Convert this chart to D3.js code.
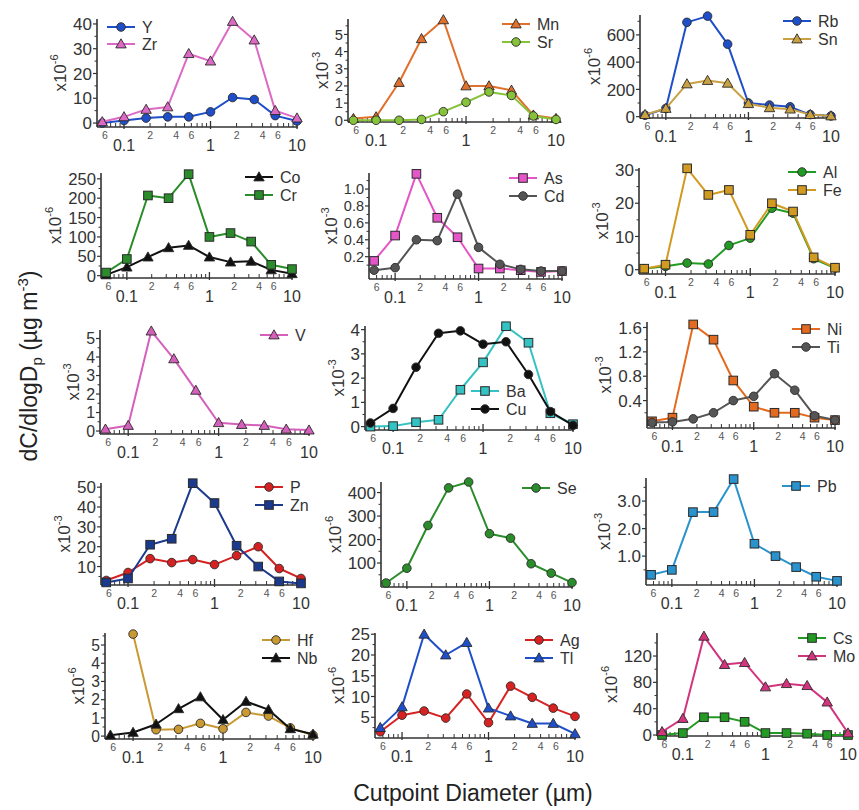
<!DOCTYPE html>
<html><head><meta charset="utf-8">
<script src="https://cdn.jsdelivr.net/npm/d3@7/dist/d3.min.js"></script>
<style>body{margin:0;background:#fff}svg{display:block}text{font-family:"Liberation Sans",Arial,sans-serif}</style>
</head><body><svg id="c" width="859" height="810"></svg>
<script>
// ---------------- DATA ----------------
const cutpoints = [0.056, 0.1, 0.18, 0.32, 0.56, 1.0, 1.8, 3.2, 5.6, 10];
const xMajorTicks = [0.1, 1, 10];
const xMinorTickLabels = [[0.06, "6"], [0.2, "2"], [0.4, "4"], [0.6, "6"], [2, "2"], [4, "4"], [6, "6"]];

const Y  = [0.0, 1.0, 2.0, 2.5, 2.5, 4.5, 10.3, 9.5, 3.0, 0.8];
const Zr = [0.5, 2.5, 5.5, 6.5, 28, 25, 41, 33.5, 5.0, 2.0];
const Mn = [0.1, 0.2, 2.2, 4.75, 5.85, 2.0, 2.0, 1.75, 0.3, 0.1];
const Sr = [0.0, 0.0, 0.0, 0.05, 0.5, 1.05, 1.65, 1.45, 0.25, 0.05];
const Rb = [10, 60, 692, 738, 532, 100, 85, 72, 15, 5];
const Sn = [15, 60, 240, 265, 245, 95, 65, 55, 15, 5];
const Co = [2, 22, 48, 72, 78, 48, 35, 37, 15, 5];
const Cr = [8, 43, 207, 200, 262, 100, 110, 88, 28, 17];
const As = [0.15, 0.45, 1.18, 0.66, 0.43, 0.06, 0.06, 0.04, 0.02, 0.03];
const Cd = [0.04, 0.07, 0.40, 0.39, 0.94, 0.31, 0.11, 0.05, 0.03, 0.03];
const Al = [0.3, 1.0, 2.0, 1.7, 7.3, 9.5, 18.5, 17.0, 3.3, 0.5];
const Fe = [0.3, 1.5, 30.5, 22.5, 24.0, 10.5, 20.0, 17.5, 3.7, 0.6];
const V  = [0.1, 0.3, 5.4, 3.9, 2.2, 0.45, 0.35, 0.3, 0.1, 0.05];
const Ba = [0.0, 0.02, 0.18, 0.28, 1.52, 2.65, 4.14, 3.46, 0.55, 0.1];
const Cu = [0.15, 0.75, 2.45, 3.85, 3.95, 3.4, 3.5, 2.15, 0.62, 0.05];
const Ni = [0.06, 0.12, 1.65, 1.4, 0.73, 0.3, 0.2, 0.2, 0.12, 0.08];
const Ti = [0.04, 0.05, 0.1, 0.2, 0.4, 0.47, 0.84, 0.57, 0.15, 0.08];
const P  = [3, 7, 14, 12, 13.5, 11, 15.5, 20, 9, 4];
const Zn = [2, 4, 21, 24, 52, 42, 20.5, 10, 2.5, 1.5];
const Se = [15, 78, 260, 420, 445, 225, 206, 97, 57, 17];
const Pb = [0.32, 0.5, 2.6, 2.6, 3.8, 1.45, 1.0, 0.6, 0.25, 0.1];
const Hf = [null, 5.6, 0.35, 0.37, 0.7, 0.4, 1.3, 1.1, 0.45, 0.05];
const Nb = [0.05, 0.2, 0.65, 1.5, 2.15, 0.9, 1.9, 1.45, 0.4, 0.1];
const Ag = [1.5, 5.5, 6.5, 4.8, 10.6, 3.7, 12.5, 9.8, 7.2, 5.2];
const Tl = [2.5, 7.5, 25, 20, 23, 7.2, 5.3, 3.5, 3.5, 1.0];
const Cs = [0, 3, 27, 27, 20, 3, 3, 2, 0, 0];
const Mo = [5, 25, 150, 107, 110, 73, 78, 75, 50, 3];

const panelSeries = [
  [["Y", Y], ["Zr", Zr]],
  [["Mn", Mn], ["Sr", Sr]],
  [["Rb", Rb], ["Sn", Sn]],
  [["Co", Co], ["Cr", Cr]],
  [["As", As], ["Cd", Cd]],
  [["Al", Al], ["Fe", Fe]],
  [["V", V]],
  [["Ba", Ba], ["Cu", Cu]],
  [["Ni", Ni], ["Ti", Ti]],
  [["P", P], ["Zn", Zn]],
  [["Se", Se]],
  [["Pb", Pb]],
  [["Hf", Hf], ["Nb", Nb]],
  [["Ag", Ag], ["Tl", Tl]],
  [["Cs", Cs], ["Mo", Mo]]
];
const panelExponent = ["-6","-3","-6","-6","-3","-3","-3","-3","-3","-3","-6","-3","-6","-6","-6"];
const panelYTicks = [
  [0,10,20,30,40], [0,1,2,3,4,5], [0,200,400,600], [0,50,100,150,200,250],
  [0.2,0.4,0.6,0.8,1.0], [0,10,20,30], [0,1,2,3,4,5], [0,1,2,3,4],
  [0.4,0.8,1.2,1.6], [10,20,30,40,50], [100,200,300,400], [1.0,2.0,3.0],
  [0,1,2,3,4,5], [5,10,15,20,25], [0,40,80,120]
];
const panelYFormat = ["d","d","d","d",".1f","d","d","d",".1f","d","d",".1f","d","d","d"];

// ---------------- STYLES / LAYOUT ----------------
const style = {
  Y:  {c:"#1f4fc8", m:"circle"},  Zr: {c:"#dc6ac4", m:"triangle"},
  Mn: {c:"#e0702c", m:"triangle"}, Sr: {c:"#86c33a", m:"circle"},
  Rb: {c:"#1f4fc8", m:"circle"},  Sn: {c:"#c9a042", m:"triangle"},
  Co: {c:"#111111", m:"triangle"}, Cr: {c:"#2a8c2a", m:"square"},
  As: {c:"#e455c8", m:"square"},  Cd: {c:"#555555", m:"circle"},
  Al: {c:"#239a23", m:"circle"},  Fe: {c:"#d19a22", m:"square"},
  V:  {c:"#d460bc", m:"triangle"},
  Ba: {c:"#34c2c2", m:"square"},  Cu: {c:"#111111", m:"circle"},
  Ni: {c:"#e36a1e", m:"square"},  Ti: {c:"#555555", m:"circle"},
  P:  {c:"#d42222", m:"circle"},  Zn: {c:"#1b3a8e", m:"square"},
  Se: {c:"#2a8c2a", m:"circle"},
  Pb: {c:"#2a92cc", m:"square"},
  Hf: {c:"#c99a34", m:"circle"},  Nb: {c:"#111111", m:"triangle"},
  Ag: {c:"#d82222", m:"circle"},  Tl: {c:"#1f4fc8", m:"triangle"},
  Cs: {c:"#239a23", m:"square"},  Mo: {c:"#d2357e", m:"triangle"}
};
// x pixel range for domain [0.05,10]; y pixel range [bottom, top]; y domain; legend anchor
const layout = [
  {xr:[98,297],  yr:[127,19],  yd:[-1.6,42],    leg:[107,27], ls:17},
  {xr:[349,556], yr:[122,19],  yd:[-0.1,5.9],   leg:[502,24]},
  {xr:[641,831], yr:[118,15],  yd:[-10,746],    leg:[783,21]},
  {xr:[102,292], yr:[278,173], yd:[-6,265],     leg:[245,177]},
  {xr:[370,562], yr:[279,173], yd:[-0.064,1.19],leg:[509,178]},
  {xr:[640,835], yr:[274,168], yd:[-1.3,30.6],  leg:[788,172]},
  {xr:[101,309], yr:[434,330], yd:[-0.16,5.46], leg:[260,335]},
  {xr:[366,573], yr:[430,326], yd:[-0.14,4.15], leg:[471,391]},
  {xr:[648,835], yr:[428,322], yd:[-0.05,1.69], leg:[792,329]},
  {xr:[102,301], yr:[585,483], yd:[0.7,52.1],   leg:[255,487]},
  {xr:[382,572], yr:[587,482], yd:[-2,445],     leg:[522,488]},
  {xr:[647,837], yr:[585,478], yd:[-0.05,3.84], leg:[782,486]},
  {xr:[106,313], yr:[739,633], yd:[-0.16,5.66], leg:[262,640]},
  {xr:[376,575], yr:[738,633], yd:[0,25.3],     leg:[525,640]},
  {xr:[658,848], yr:[736,633], yd:[-1.5,155],   leg:[798,638]}
];

const svg = d3.select("#c");
const axisColor = "#333";
const xTickFont = 16;

function drawMarker(g, type, x, y, color) {
  const stroke = "#2a2a2a";
  if (type === "circle") {
    g.append("circle").attr("cx", x).attr("cy", y).attr("r", 4.3)
      .attr("fill", color).attr("stroke", stroke).attr("stroke-width", 0.9);
  } else if (type === "square") {
    g.append("rect").attr("x", x - 4.3).attr("y", y - 4.3).attr("width", 8.6).attr("height", 8.6)
      .attr("fill", color).attr("stroke", stroke).attr("stroke-width", 1);
  } else {
    const s = 5.2;
    g.append("path").attr("d", `M${x},${y - s}L${x + s},${y + s * 0.75}L${x - s},${y + s * 0.75}Z`)
      .attr("fill", color).attr("stroke", stroke).attr("stroke-width", 0.9);
  }
}

panelSeries.forEach((series, i) => {
  const L = layout[i];
  const g = svg.append("g");
  const x = d3.scaleLog().domain([0.05, 10]).range(L.xr);
  const y = d3.scaleLinear().domain(L.yd).range(L.yr);
  const x0 = L.xr[0] - 1, yb = L.yr[0];

  // x axis line and ticks
  g.append("line").attr("x1", x0).attr("x2", L.xr[1] + 1).attr("y1", yb).attr("y2", yb)
    .attr("stroke", axisColor).attr("stroke-width", 1.6);
  const minorVals = [];
  for (let dec of [0.01, 0.1, 1]) for (let k = 2; k <= 9; k++) {
    const v = +(dec * k).toPrecision(3);
    if (v > 0.05 && v < 10) minorVals.push(v);
  }
  minorVals.forEach(v => g.append("line").attr("x1", x(v)).attr("x2", x(v))
    .attr("y1", yb).attr("y2", yb - 4).attr("stroke", axisColor).attr("stroke-width", 1));
  xMajorTicks.forEach(v => g.append("line").attr("x1", x(v)).attr("x2", x(v))
    .attr("y1", yb + 2).attr("y2", yb - 6).attr("stroke", axisColor).attr("stroke-width", 1.3));
  xMinorTickLabels.forEach(([v, t]) => g.append("text").attr("x", x(v)).attr("y", yb + 12)
    .attr("text-anchor", "middle").attr("font-size", 10.5).attr("fill", "#555").text(t));
  xMajorTicks.forEach(v => g.append("text").attr("x", x(v)).attr("y", yb + 24)
    .attr("text-anchor", "middle").attr("font-size", xTickFont).attr("fill", "#333").text(String(v)));

  // y axis
  g.append("line").attr("x1", x0).attr("x2", x0).attr("y1", yb).attr("y2", L.yr[1])
    .attr("stroke", axisColor).attr("stroke-width", 1.6);
  const fmt = d3.format(panelYFormat[i]);
  const yt = panelYTicks[i];
  const spacing = Math.abs(y(yt[1]) - y(yt[0]));
  const yTickFont = Math.min(17, spacing * 0.86);
  let maxW = 0;
  yt.forEach(v => {
    const yy = y(v);
    g.append("line").attr("x1", x0 - 4).attr("x2", x0).attr("y1", yy).attr("y2", yy)
      .attr("stroke", axisColor).attr("stroke-width", 1.2);
    const t = g.append("text").attr("x", x0 - 5).attr("y", yy + yTickFont * 0.36).attr("text-anchor", "end")
      .attr("font-size", yTickFont).attr("fill", "#333").text(fmt(v));
    maxW = Math.max(maxW, t.node().getComputedTextLength());
  });
  // minor y ticks (halfway)
  const step = yt[1] - yt[0];
  for (let v = yt[0] - step / 2; v <= L.yd[1]; v += step) {
    if (v < L.yd[0]) continue;
    g.append("line").attr("x1", x0 - 2.5).attr("x2", x0).attr("y1", y(v)).attr("y2", y(v))
      .attr("stroke", axisColor).attr("stroke-width", 1);
  }
  // exponent label
  const ex = x0 - 7 - maxW - 5, ey = (L.yr[0] + L.yr[1]) / 2;
  const et = g.append("text").attr("transform", `translate(${ex},${ey}) rotate(-90)`)
    .attr("text-anchor", "middle").attr("font-size", 17).attr("fill", "#333");
  et.append("tspan").text("x10");
  et.append("tspan").attr("dy", -8).attr("font-size", 11).text(panelExponent[i]);

  // series
  series.forEach(([name, vals]) => {
    const st = style[name];
    const pts = cutpoints.map((c, k) => [c, vals[k]]);
    const line = d3.line().defined(d => d[1] !== null).x(d => x(d[0])).y(d => y(d[1]));
    g.append("path").attr("d", line(pts)).attr("fill", "none").attr("stroke", st.c)
      .attr("stroke-width", 2).attr("stroke-linejoin", "round");
    pts.filter(d => d[1] !== null).forEach(d => drawMarker(g, st.m, x(d[0]), y(d[1]), st.c));
  });

  // legend
  const ls = L.ls || 18;
  series.forEach(([name], k) => {
    const st = style[name];
    const lx = L.leg[0], ly = L.leg[1] + k * ls;
    g.append("line").attr("x1", lx).attr("x2", lx + 28).attr("y1", ly).attr("y2", ly)
      .attr("stroke", st.c).attr("stroke-width", 2);
    drawMarker(g, st.m, lx + 14, ly, st.c);
    g.append("text").attr("x", lx + 35).attr("y", ly + 5.5).attr("font-size", 16)
      .attr("fill", "#333").text(name);
  });
});

// global axis titles
const yl = svg.append("text").attr("transform", "translate(37,366) rotate(-90)")
  .attr("text-anchor", "middle").attr("font-size", 23).attr("fill", "#222");
yl.append("tspan").text("dC/dlogD");
yl.append("tspan").attr("font-size", 15).attr("dy", 5).text("p");
yl.append("tspan").attr("dy", -5).text(" (µg m");
yl.append("tspan").attr("font-size", 15).attr("dy", -9).text("-3");
yl.append("tspan").attr("dy", 9).text(")");

svg.append("text").attr("x", 473).attr("y", 801).attr("text-anchor", "middle")
  .attr("font-size", 23).attr("fill", "#222").text("Cutpoint Diameter (µm)");
</script></body></html>
